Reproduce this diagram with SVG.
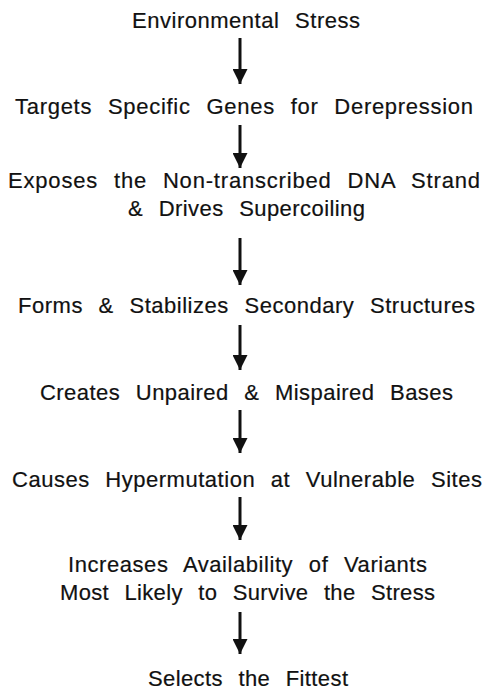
<svg xmlns="http://www.w3.org/2000/svg" width="486" height="691" viewBox="0 0 486 691">
<style>
text{font-family:"Liberation Sans",Arial,sans-serif;font-size:22px;fill:#111;text-anchor:middle;word-spacing:9px;stroke:#111;stroke-width:0.2}
.c line{stroke:#111;stroke-width:3}
</style>
<defs>
<marker id="hd" markerUnits="userSpaceOnUse" markerWidth="15" markerHeight="15" refX="15" refY="7.5" orient="auto" viewBox="0 0 15 15">
<path d="M0,0 L15,7.5 L0,15 Z" fill="#111"/>
</marker>
</defs>
<rect width="486" height="691" fill="#fff"/>
<g id="n1"><text x="246" y="28" textLength="228" lengthAdjust="spacing">Environmental Stress</text></g>
<g id="n2"><text x="244" y="114" textLength="458" lengthAdjust="spacing">Targets Specific Genes for Derepression</text></g>
<g id="n3"><text x="244" y="188" textLength="472" lengthAdjust="spacing">Exposes the Non-transcribed DNA Strand</text><text x="246.5" y="216" textLength="237" lengthAdjust="spacing">&amp; Drives Supercoiling</text></g>
<g id="n4"><text x="246.5" y="313" textLength="457" lengthAdjust="spacing">Forms &amp; Stabilizes Secondary Structures</text></g>
<g id="n5"><text x="246.5" y="400" textLength="413" lengthAdjust="spacing">Creates Unpaired &amp; Mispaired Bases</text></g>
<g id="n6"><text x="247" y="487" textLength="470" lengthAdjust="spacing">Causes Hypermutation at Vulnerable Sites</text></g>
<g id="n7"><text x="247.5" y="572" textLength="359" lengthAdjust="spacing">Increases Availability of Variants</text><text x="247.5" y="600" textLength="375" lengthAdjust="spacing">Most Likely to Survive the Stress</text></g>
<g id="n8"><text x="248" y="686" textLength="200" lengthAdjust="spacing">Selects the Fittest</text></g>
<g id="connectors" class="c">
<line x1="240" y1="38" x2="240" y2="84" marker-end="url(#hd)"/>
<line x1="240" y1="125" x2="240" y2="168" marker-end="url(#hd)"/>
<line x1="240" y1="238" x2="240" y2="285" marker-end="url(#hd)"/>
<line x1="240" y1="325" x2="240" y2="370" marker-end="url(#hd)"/>
<line x1="240" y1="410" x2="240" y2="453" marker-end="url(#hd)"/>
<line x1="240" y1="497" x2="240" y2="540" marker-end="url(#hd)"/>
<line x1="240" y1="612" x2="240" y2="654" marker-end="url(#hd)"/>
</g>
</svg>
